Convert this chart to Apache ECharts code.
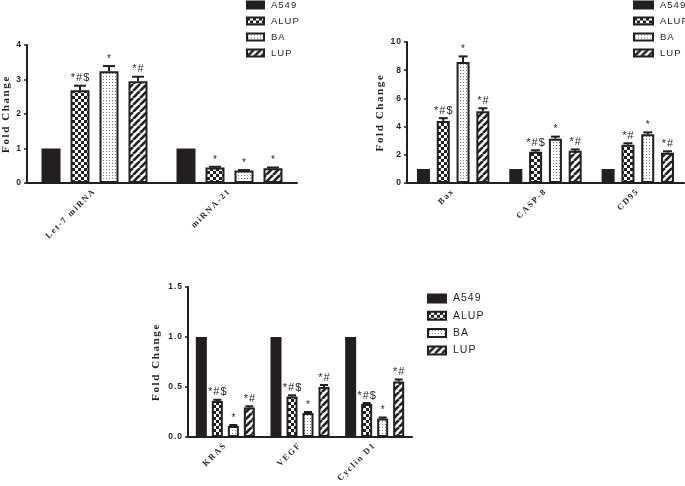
<!DOCTYPE html>
<html><head><meta charset="utf-8">
<script src="https://cdn.jsdelivr.net/npm/echarts@6/dist/echarts.min.js"></script>
<style>html,body{margin:0;padding:0;background:#fff}#c{width:685px;height:486px}</style>
</head><body><div id="c"></div>
<script>
// ---------- DATA ----------
const seriesNames = ['A549', 'ALUP', 'BA', 'LUP'];

// Panel 1
const cats1 = ['Let-7 miRNA', 'miRNA-21'];
const a549_1 = [1.0, 1.0];
const alup_1 = [2.69, 0.45];
const ba_1 = [3.24, 0.36];
const lup_1 = [2.95, 0.43];
const alupErr_1 = [0.13, 0.02];
const baErr_1 = [0.15, 0.015];
const lupErr_1 = [0.13, 0.02];
const alupSig_1 = ['*#$', '*'];
const baSig_1 = ['*', '*'];
const lupSig_1 = ['*#', '*'];
const yTicks1 = [0, 1, 2, 3, 4];

// Panel 2
const cats2 = ['Bax', 'CASP-8', 'CD95'];
const a549_2 = [1.0, 1.0, 1.0];
const alup_2 = [4.4, 2.22, 2.72];
const ba_2 = [8.58, 3.14, 3.45];
const lup_2 = [5.08, 2.28, 2.15];
const alupErr_2 = [0.2, 0.1, 0.1];
const baErr_2 = [0.4, 0.15, 0.14];
const lupErr_2 = [0.22, 0.1, 0.1];
const alupSig_2 = ['*#$', '*#$', '*#'];
const baSig_2 = ['*', '*', '*'];
const lupSig_2 = ['*#', '*#', '*#'];
const yTicks2 = [0, 2, 4, 6, 8, 10];

// Panel 3
const cats3 = ['KRAS', 'VEGF', 'Cyclin D1'];
const a549_3 = [1.0, 1.0, 1.0];
const alup_3 = [0.36, 0.405, 0.33];
const ba_3 = [0.11, 0.24, 0.185];
const lup_3 = [0.295, 0.5, 0.555];
const alupErr_3 = [0.012, 0.012, 0.01];
const baErr_3 = [0.01, 0.01, 0.01];
const lupErr_3 = [0.012, 0.02, 0.02];
const alupSig_3 = ['*#$', '*#$', '*#$'];
const baSig_3 = ['*', '*', '*'];
const lupSig_3 = ['*#', '*#', '*#'];
const yTicks3 = [0, 0.5, 1.0, 1.5];

const yName = 'Fold Change';

// ---------- TYPOGRAPHY: wide tracking like the original export ----------
(function () {
  const proto = CanvasRenderingContext2D.prototype;
  const orig = proto.fillText;
  proto.fillText = function (t, x, y, m) {
    if (!('letterSpacing' in this)) return orig.call(this, t, x, y, m);
    const prev = this.letterSpacing;
    this.letterSpacing = /Serif/.test(this.font) ? '1.6px' : '1px';
    const r = m === undefined ? orig.call(this, t, x, y) : orig.call(this, t, x, y, m);
    this.letterSpacing = prev;
    return r;
  };
})();

// ---------- STYLE ----------
const INK = '#231f20';
function pattern(kind) {
  const c = document.createElement('canvas');
  const ctx = c.getContext('2d');
  if (kind === 'check') {
    c.width = c.height = 6;
    ctx.fillStyle = '#fff'; ctx.fillRect(0, 0, 6, 6);
    ctx.fillStyle = INK; ctx.fillRect(0, 0, 3, 3); ctx.fillRect(3, 3, 3, 3);
  } else if (kind === 'dots') {
    c.width = c.height = 3;
    ctx.fillStyle = '#fff'; ctx.fillRect(0, 0, 3, 3);
    ctx.fillStyle = '#7a7a7a'; ctx.fillRect(1, 1, 1, 1);
  } else {
    c.width = c.height = 7;
    ctx.fillStyle = '#fff'; ctx.fillRect(0, 0, 7, 7);
    ctx.strokeStyle = INK; ctx.lineWidth = 2.6;
    [-7, 0, 7].forEach(dx => {
      ctx.beginPath(); ctx.moveTo(dx, 7); ctx.lineTo(dx + 7, 0); ctx.stroke();
    });
  }
  return { image: c, repeat: 'repeat' };
}
const fills = [INK, pattern('check'), pattern('dots'), pattern('stripe')];

const panels = [
  { cats: cats1, vals: [a549_1, alup_1, ba_1, lup_1], errs: [null, alupErr_1, baErr_1, lupErr_1],
    sigs: [null, alupSig_1, baSig_1, lupSig_1], ticks: yTicks1,
    grid: { left: 25, top: 45, width: 272, height: 138 }, bw: 19, gapPx: 10, cap: 12, nameGap: 15, dec: 0,
    legend: { left: 246, top: 0, iw: 17, ih: 7, gap: 6, fs: 9.5 } },
  { cats: cats2, vals: [a549_2, alup_2, ba_2, lup_2], errs: [null, alupErr_2, baErr_2, lupErr_2],
    sigs: [null, alupSig_2, baSig_2, lupSig_2], ticks: yTicks2,
    grid: { left: 407, top: 42, width: 277, height: 141 }, bw: 13, gapPx: 6.8, cap: 9, nameGap: 21, dec: 0,
    legend: { left: 633, top: 0, iw: 19, ih: 7, gap: 6, fs: 9.5 } },
  { cats: cats3, vals: [a549_3, alup_3, ba_3, lup_3], errs: [null, alupErr_3, baErr_3, lupErr_3],
    sigs: [null, alupSig_3, baSig_3, lupSig_3], ticks: yTicks3,
    grid: { left: 188, top: 287, width: 224, height: 150 }, bw: 11, gapPx: 5, cap: 8, nameGap: 26, dec: 1,
    legend: { left: 427, top: 293, iw: 18, ih: 8, gap: 6.3, fs: 10.5 } }
];

const grids = [], xAxes = [], yAxes = [], series = [], legends = [];
panels.forEach((p, pi) => {
  grids.push(p.grid);
  xAxes.push({
    type: 'category', gridIndex: pi, data: p.cats,
    axisLine: { lineStyle: { color: INK, width: 2 } },
    axisTick: { alignWithLabel: true, length: 4, lineStyle: { color: INK, width: 1.5 } },
    axisLabel: { rotate: 45, margin: 7, color: INK, fontFamily: 'Liberation Serif', fontWeight: 'bold', fontSize: 8.5 }
  });
  const t = p.ticks;
  yAxes.push({
    type: 'value', gridIndex: pi, min: t[0], max: t[t.length - 1], interval: t[1] - t[0],
    name: yName, nameLocation: 'middle', nameRotate: 90, nameGap: p.nameGap,
    nameTextStyle: { fontFamily: 'Liberation Serif', fontWeight: 'bold', fontSize: 11, color: INK },
    splitLine: { show: false },
    axisLine: { show: true, lineStyle: { color: INK, width: 2 } },
    axisTick: { show: true, length: 3, lineStyle: { color: INK, width: 1.5 } },
    axisLabel: { margin: 5, color: INK, fontFamily: 'Liberation Sans', fontWeight: 'bold', fontSize: 8.5,
      formatter: v => v.toFixed(p.dec) }
  });
  const gapPct = (p.gapPx / p.bw * 100).toFixed(1) + '%';
  seriesNames.forEach((nm, si) => {
    series.push({
      type: 'bar', name: nm, xAxisIndex: pi, yAxisIndex: pi, data: p.vals[si],
      barWidth: p.bw, barGap: gapPct, z: 2,
      itemStyle: { color: fills[si], borderColor: INK, borderWidth: 2 },
      emphasis: { disabled: true }
    });
  });
  // error bars + significance marks
  const step = p.bw + p.gapPx;
  const data = [], labels = [];
  for (let si = 1; si < 4; si++) {
    p.vals[si].forEach((v, ci) => {
      data.push([ci, v, p.errs[si][ci], si]);
      labels.push(p.sigs[si][ci]);
    });
  }
  series.push({
    type: 'custom', xAxisIndex: pi, yAxisIndex: pi, z: 5, silent: true,
    data: data,
    encode: { x: 0, y: 1 },
    renderItem: (params, api) => {
      const ci = api.value(0), v = api.value(1), e = api.value(2), si = api.value(3);
      const top = api.coord([ci, v + e]);
      const base = api.coord([ci, v]);
      const x = top[0] + (si - 1.5) * step;
      const sig = labels[params.dataIndex];
      return {
        type: 'group', children: [
          { type: 'line', shape: { x1: x, y1: base[1], x2: x, y2: top[1] }, style: { stroke: INK, lineWidth: 2 } },
          { type: 'line', shape: { x1: x - p.cap / 2, y1: top[1], x2: x + p.cap / 2, y2: top[1] }, style: { stroke: INK, lineWidth: 2 } },
          { type: 'text', x: x + 0.5, y: top[1] - 2, style: { text: sig, align: 'center', verticalAlign: 'bottom',
            font: (sig === '*' ? '10px' : '11px') + ' "Liberation Sans"', fill: INK } }
        ]
      };
    }
  });
  legends.push({
    orient: 'vertical', left: p.legend.left, top: p.legend.top, icon: 'rect', padding: 0,
    itemWidth: p.legend.iw, itemHeight: p.legend.ih, itemGap: p.legend.gap,
    data: seriesNames, selectedMode: false,
    textStyle: { fontFamily: 'Liberation Sans', fontSize: p.legend.fs, color: INK, padding: [0, 0, 0, 2] }
  });
});

const chart = echarts.init(document.getElementById('c'), null, { renderer: 'canvas' });
chart.setOption({
  animation: false, backgroundColor: '#fff',
  grid: grids, xAxis: xAxes, yAxis: yAxes, series: series, legend: legends
});
</script></body></html>
